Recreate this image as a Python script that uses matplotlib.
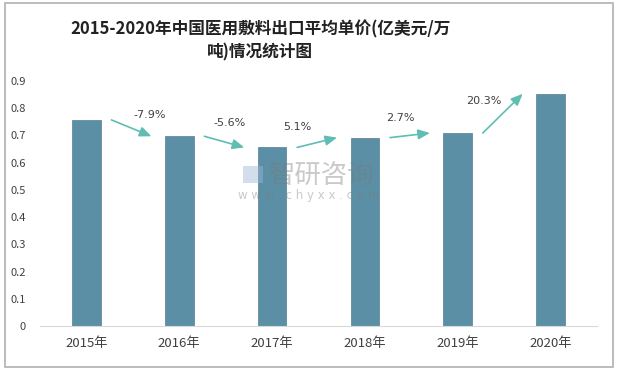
import matplotlib
matplotlib.use("Agg")
import matplotlib.pyplot as plt
from matplotlib.patches import Rectangle

plt.rcParams['font.family'] = ['Noto Sans CJK SC', 'DejaVu Sans']

years = ['2015年', '2016年', '2017年', '2018年', '2019年', '2020年']
prices = [0.757, 0.697, 0.656, 0.692, 0.709, 0.853]
growth = ['-7.9%', '-5.6%', '5.1%', '2.7%', '20.3%']
yticks = [0, 0.1, 0.2, 0.3, 0.4, 0.5, 0.6, 0.7, 0.8, 0.9]
ytick_labels = ['0', '0.1', '0.2', '0.3', '0.4', '0.5', '0.6', '0.7', '0.8', '0.9']

fig = plt.figure(figsize=(6.18, 3.69), dpi=100)
fig.patches.append(Rectangle((0.008, 0.005), 0.984, 0.988, transform=fig.transFigure,
                             fill=False, edgecolor='#b0b0b0', linewidth=1.2))
ax = fig.add_axes([0.0647, 0.1165, 0.9013, 0.664])

x = list(range(len(years)))
ax.bar(x, prices, width=0.31, color='#5b8fa6', edgecolor='#557f95', linewidth=0.5, zorder=2)
ax.set_xlim(-0.5, len(years) - 0.5)
ax.set_ylim(0, 0.9)
ax.set_yticks(yticks)
ax.set_yticklabels(ytick_labels, fontsize=8, color='#404040')
ax.set_xticks(x)
ax.set_xticklabels(years, fontsize=9.5, color='#404040')
for s in ['top', 'right', 'left']:
    ax.spines[s].set_visible(False)
ax.spines['bottom'].set_color('#d9d9d9')
ax.tick_params(axis='both', length=0)
ax.tick_params(axis='y', pad=10)
ax.tick_params(axis='x', pad=8)

# growth arrows and labels
label_off = [(0.68, 0.776), (0.54, 0.746), (0.27, 0.73), (0.38, 0.764), (0.28, 0.827)]
for i, g in enumerate(growth):
    ax.annotate('', xy=(i + 0.70, prices[i + 1]), xytext=(i + 0.27, prices[i]),
                arrowprops=dict(arrowstyle='-|>,head_length=0.7,head_width=0.3',
                                color='#5fbdb3', lw=1.2, shrinkA=0, shrinkB=0), zorder=3)
    dx, yy = label_off[i]
    ax.text(i + dx, yy, g, ha='center', va='center', fontsize=8, color='#404040',
            family=['DejaVu Sans'], zorder=3)

# semi-transparent watermark on top
ax.text(0.435, 0.526, '智研咨询', ha='left', va='center', fontsize=19,
        color='#7a7a7a', alpha=0.4, transform=fig.transFigure, zorder=5)
ax.add_patch(Rectangle((0.393, 0.505), 0.033, 0.045, transform=fig.transFigure,
                       facecolor='#9fb6d6', alpha=0.45, edgecolor='none', zorder=5))
ax.text(0.5, 0.469, 'w w w . c h y x x . c o m', ha='center', va='center', fontsize=8.5,
        color='#7a7a7a', alpha=0.4, family=['DejaVu Sans'], transform=fig.transFigure,
        zorder=5)

fig.text(0.421, 0.921, '2015-2020年中国医用敷料出口平均单价(亿美元/万', ha='center', va='center',
         fontsize=12, color='#222222', fontweight='bold')
fig.text(0.421, 0.857, '吨)情况统计图', ha='center', va='center',
         fontsize=12, color='#222222', fontweight='bold')

fig.savefig('out.png', dpi=100)
